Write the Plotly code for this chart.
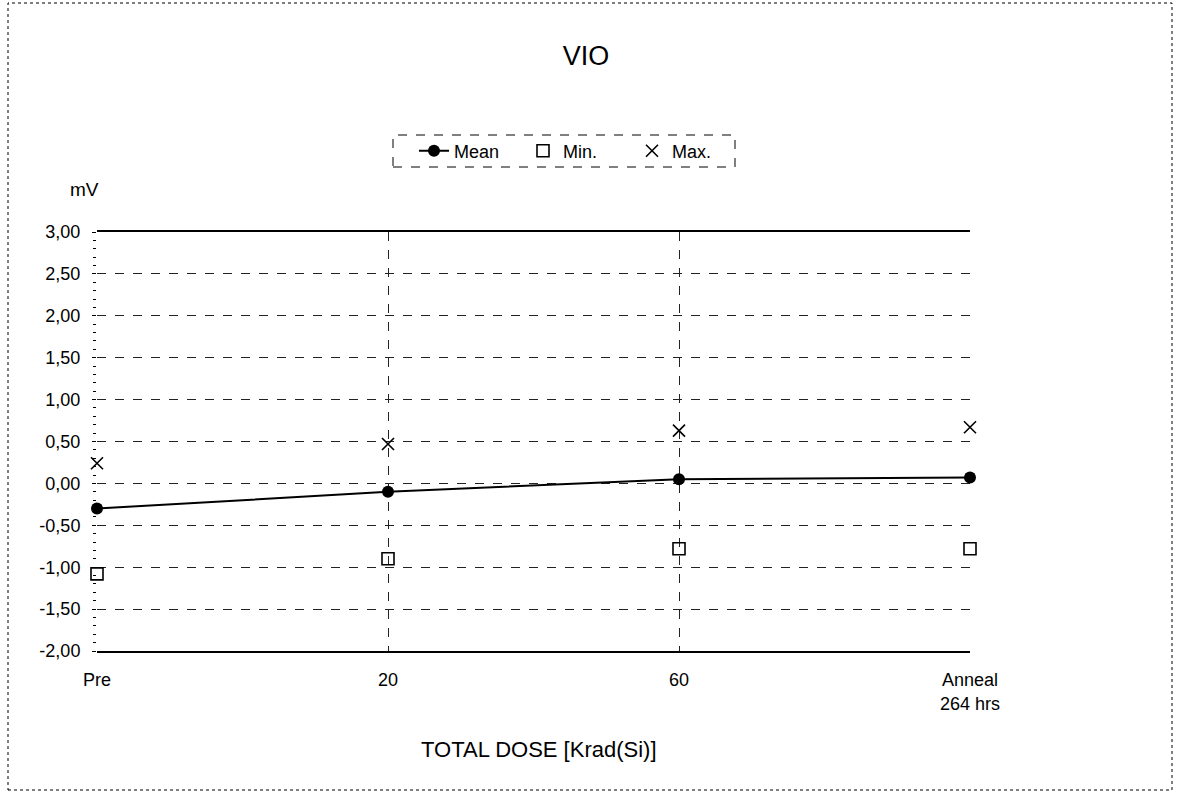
import plotly.graph_objects as go

categories = ["Pre", "20", "60", "Anneal<br>264 hrs"]
mean_vals = [-0.30, -0.10, 0.05, 0.07]
min_vals = [-1.08, -0.90, -0.78, -0.78]
max_vals = [0.24, 0.47, 0.63, 0.67]
y_ticks = [-2.0, -1.5, -1.0, -0.5, 0.0, 0.5, 1.0, 1.5, 2.0, 2.5, 3.0]
y_tick_labels = ["-2,00", "-1,50", "-1,00", "-0,50", "0,00", "0,50", "1,00", "1,50", "2,00", "2,50", "3,00"]

xpos = list(range(len(categories)))
FONT = "Liberation Sans, Arial, sans-serif"

# plot-area geometry (pixels)
L, R, T, B = 97, 970, 232, 651
PW, PH = R - L, B - T


def px(x):
    return (x - L) / PW


def py(y):
    return (B - y) / PH


fig = go.Figure()
fig.add_trace(go.Scatter(x=xpos, y=mean_vals, mode="lines+markers", name="Mean",
                         line=dict(color="black", width=2),
                         marker=dict(symbol="circle", size=12, color="black"),
                         cliponaxis=False))
fig.add_trace(go.Scatter(x=xpos, y=min_vals, mode="markers", name="Min.",
                         marker=dict(symbol="square-open", size=12, color="black", line=dict(width=1.6)),
                         cliponaxis=False))
fig.add_trace(go.Scatter(x=xpos, y=max_vals, mode="markers", name="Max.",
                         marker=dict(symbol="x-thin-open", size=12, color="black", line=dict(width=1.6)),
                         cliponaxis=False))

fig.update_layout(
    width=1181, height=793,
    paper_bgcolor="white", plot_bgcolor="white",
    margin=dict(l=L, r=1181 - R, t=T, b=793 - B),
    font=dict(family=FONT, color="black", size=18),
    title=dict(text="VIO", x=586 / 1181, xanchor="center", xref="container", y=1 - 56 / 793,
               yanchor="middle", yref="container", font=dict(size=27, family=FONT)),
    showlegend=True,
    legend=dict(orientation="h", x=px(414), xanchor="left", y=py(151), yanchor="middle",
                bgcolor="rgba(0,0,0,0)", borderwidth=0, font=dict(size=18),
                entrywidth=64, entrywidthmode="pixels"),
    xaxis=dict(range=[0, 3], tickvals=xpos, ticktext=categories, showgrid=True,
               gridcolor="#222", griddash="dash", gridwidth=1,
               showline=True, linecolor="black", linewidth=1.5, mirror=True,
               ticks="", zeroline=False, tickfont=dict(size=18), ticklabelstandoff=12),
    yaxis=dict(range=[-2, 3], tickvals=y_ticks, ticktext=y_tick_labels, showgrid=True,
               gridcolor="#222", griddash="dash", gridwidth=1,
               showline=False, zeroline=False, ticks="outside", ticklen=4, tickcolor="black",
               ticklabelstandoff=8, tickfont=dict(size=18),
               minor=dict(dtick=0.1, ticks="outside", ticklen=3, tickcolor="black", showgrid=False)),
)

fig.add_annotation(text="mV", xref="paper", yref="paper", x=px(84), y=py(190),
                   showarrow=False, xanchor="center", yanchor="middle", font=dict(size=19))
fig.add_annotation(text="TOTAL DOSE [Krad(Si)]", xref="paper", yref="paper", x=px(539), y=py(749),
                   showarrow=False, xanchor="center", yanchor="middle", font=dict(size=22))
# legend frame
fig.add_shape(type="rect", xref="paper", yref="paper",
              x0=px(393), x1=px(735), y0=py(167), y1=py(135),
              line=dict(color="black", width=1, dash="dash"))
# outer chart frame
fig.add_shape(type="rect", xref="paper", yref="paper",
              x0=px(8), x1=px(1172), y0=py(790), y1=py(3),
              line=dict(color="black", width=1, dash="dot"))

fig.write_html("out.html", config={"displayModeBar": False},
               post_script="document.body.style.margin='0';")
